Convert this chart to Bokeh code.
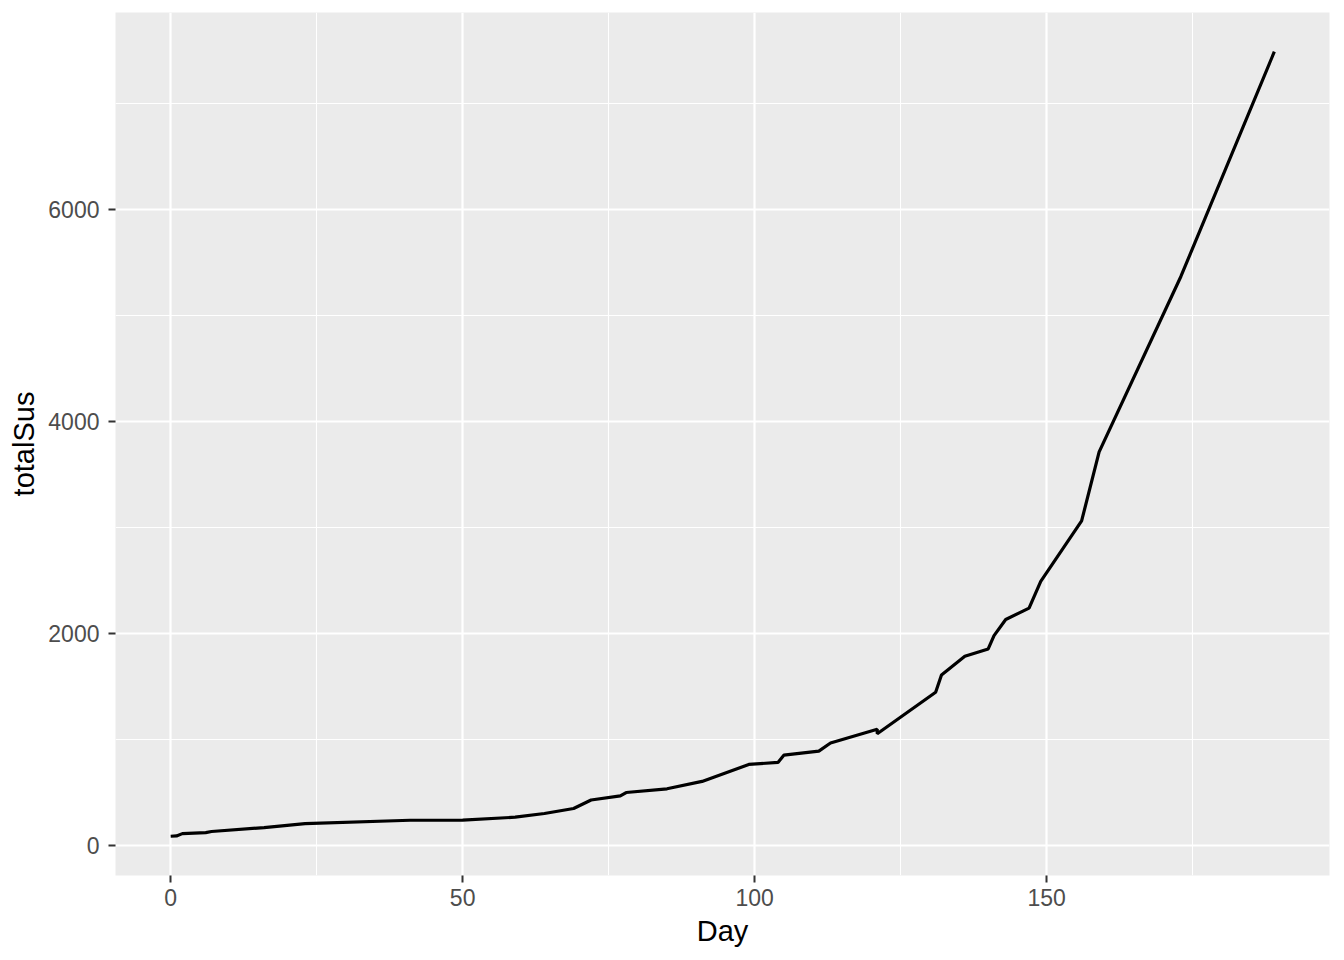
from bokeh.plotting import figure
from bokeh.models import Range1d, FixedTicker
from bokeh.embed import file_html
from bokeh.resources import INLINE

# Data
day = [0, 1, 2, 6, 7, 16, 23, 41, 50, 59, 64, 69, 72, 77, 78, 85, 91, 99,
       104, 105, 111, 113, 121, 121, 131, 132, 136, 140, 141, 143, 147, 149,
       156, 159, 173, 189]
total_sus = [85, 88, 110, 120, 130, 167, 205, 236, 237, 265, 300, 347, 427,
             466, 498, 533, 603, 763, 782, 850, 889, 965, 1095, 1052, 1444,
             1608, 1784, 1853, 1979, 2131, 2238, 2490, 3061, 3713, 5368, 7489]

x_major = [0, 50, 100, 150]
x_minor = [25, 75, 125, 175]
y_major = [0, 2000, 4000, 6000]
y_minor = [1000, 3000, 5000, 7000]

xmin, xmax = min(day), max(day)
ymin, ymax = min(total_sus), max(total_sus)
xs = xmax - xmin
ys = ymax - ymin

p = figure(
    frame_width=1214, frame_height=863,
    min_border_left=115, min_border_top=12, min_border_right=8, min_border_bottom=70,
    x_range=Range1d(xmin - 0.05 * xs, xmax + 0.05 * xs),
    y_range=Range1d(ymin - 0.05 * ys, ymax + 0.05 * ys),
    output_backend="svg", toolbar_location=None,
    x_axis_label="Day", y_axis_label="totalSus",
)

p.background_fill_color = "#EBEBEB"
p.border_fill_color = "white"
p.outline_line_color = None

p.line(day, total_sus, line_color="black", line_width=3.2)

for ax, maj, mnr in ((p.xaxis[0], x_major, x_minor), (p.yaxis[0], y_major, y_minor)):
    ax.ticker = FixedTicker(ticks=maj, minor_ticks=mnr)
    ax.axis_line_color = None
    ax.major_tick_line_color = "#333333"
    ax.major_tick_line_width = 2
    ax.major_tick_out = 7
    ax.major_tick_in = 0
    ax.minor_tick_line_color = None
    ax.major_label_text_font = "Liberation Sans"
    ax.major_label_text_font_size = "23px"
    ax.major_label_text_color = "#4D4D4D"
    ax.axis_label_text_font = "Liberation Sans"
    ax.axis_label_text_font_size = "29px"
    ax.axis_label_text_font_style = "normal"
    ax.axis_label_text_color = "black"

p.xaxis.major_label_standoff = 6
p.yaxis.major_label_standoff = 9
p.xaxis.axis_label_standoff = 6
p.yaxis.axis_label_standoff = 5

for g in (p.xgrid[0], p.ygrid[0]):
    g.grid_line_color = "white"
    g.grid_line_width = 2.2
    g.minor_grid_line_color = "white"
    g.minor_grid_line_width = 1.1

open("out.html", "w").write(file_html(p, INLINE))
